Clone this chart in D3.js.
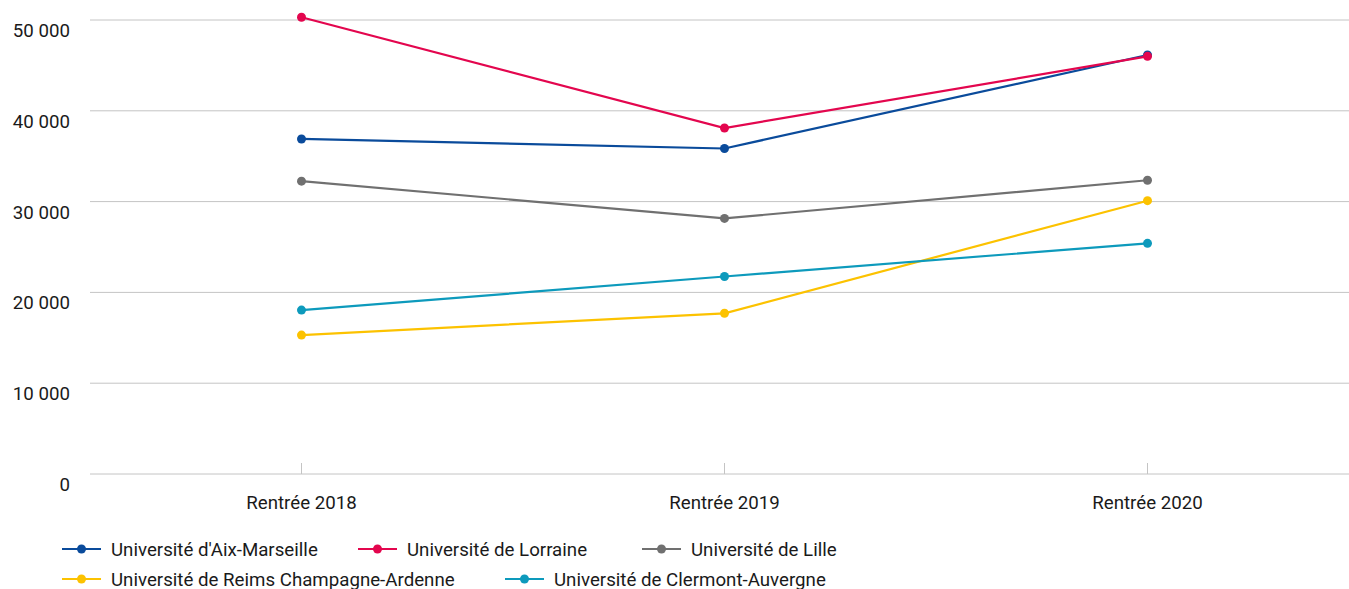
<!DOCTYPE html>
<html>
<head>
<meta charset="utf-8">
<script src="https://cdn.jsdelivr.net/npm/d3@7"></script>
<style>
  html, body { margin: 0; padding: 0; background: #fff; }
  svg { display: block; font-family: Roboto, "Noto Sans", sans-serif; }
</style>
</head>
<body>
<svg id="chart" width="1349" height="589"></svg>
<script>
const categories = ["Rentrée 2018", "Rentrée 2019", "Rentrée 2020"];
const seriesNames = [
  "Université d'Aix-Marseille",
  "Université de Lorraine",
  "Université de Lille",
  "Université de Reims Champagne-Ardenne",
  "Université de Clermont-Auvergne"
];
const aixMarseille = [36900, 35850, 46150];
const lorraine = [50300, 38100, 46000];
const lille = [32250, 28150, 32350];
const reims = [15300, 17700, 30100];
const clermont = [18050, 21750, 25400];
const seriesColors = ["#0a4b9b", "#e3064e", "#707070", "#fcc200", "#0d9abc"];
const yTicks = [0, 10000, 20000, 30000, 40000, 50000];

const series = [aixMarseille, lorraine, lille, reims, clermont].map((v, i) => ({
  name: seriesNames[i], values: v, color: seriesColors[i]
}));

const svg = d3.select("#chart");
const plotLeft = 90, plotRight = 1359, plotTop = 20, plotBottom = 474;
const fontSize = 18.7;

const x = d3.scaleBand().domain(categories).range([plotLeft, plotRight]);
const y = d3.scaleLinear().domain([0, 50000]).range([plotBottom, plotTop]);
const cx = c => x(c) + x.bandwidth() / 2;

// gridlines
svg.append("g").selectAll("line").data(yTicks).join("line")
  .attr("x1", plotLeft).attr("x2", 1349)
  .attr("y1", d => y(d)).attr("y2", d => y(d))
  .attr("stroke", "#c4c4c4").attr("stroke-width", 1);

// y labels
const fmt = d => d3.format(",")(d).replace(/,/g, " ");
svg.append("g").selectAll("text").data(yTicks).join("text")
  .attr("x", 70).attr("y", d => y(d) + 17)
  .attr("text-anchor", "end")
  .attr("font-size", fontSize).attr("fill", "#1a1a1a")
  .text(fmt);

// x ticks and labels
const xg = svg.append("g");
xg.selectAll("line").data(categories).join("line")
  .attr("x1", cx).attr("x2", cx)
  .attr("y1", plotBottom - 11).attr("y2", plotBottom)
  .attr("stroke", "#c4c4c4");
xg.selectAll("text").data(categories).join("text")
  .attr("x", cx).attr("y", plotBottom + 34.5)
  .attr("text-anchor", "middle")
  .attr("font-size", fontSize).attr("fill", "#1a1a1a")
  .text(d => d);

// lines
const line = d3.line().x((d, i) => cx(categories[i])).y(d => y(d));
const sg = svg.append("g").selectAll("g").data(series).join("g");
sg.append("path")
  .attr("d", d => line(d.values))
  .attr("fill", "none").attr("stroke", d => d.color).attr("stroke-width", 2.2);
sg.selectAll("circle").data(d => d.values.map(v => ({ v, color: d.color }))).join("circle")
  .attr("cx", (d, i) => cx(categories[i])).attr("cy", d => y(d.v))
  .attr("r", 4.5).attr("fill", d => d.color);

// legend
const legendPos = [[62, 549], [358, 549], [642, 549], [62, 579], [505, 579]];
const lg = svg.append("g").selectAll("g").data(series).join("g")
  .attr("transform", (d, i) => `translate(${legendPos[i][0]},${legendPos[i][1]})`);
lg.append("line").attr("x1", 0).attr("x2", 39).attr("y1", 0).attr("y2", 0)
  .attr("stroke", d => d.color).attr("stroke-width", 2.2);
lg.append("circle").attr("cx", 19.5).attr("cy", 0).attr("r", 4.5).attr("fill", d => d.color);
lg.append("text").attr("x", 49).attr("y", 6.5)
  .attr("font-size", fontSize).attr("fill", "#1a1a1a")
  .text(d => d.name);
</script>
</body>
</html>
